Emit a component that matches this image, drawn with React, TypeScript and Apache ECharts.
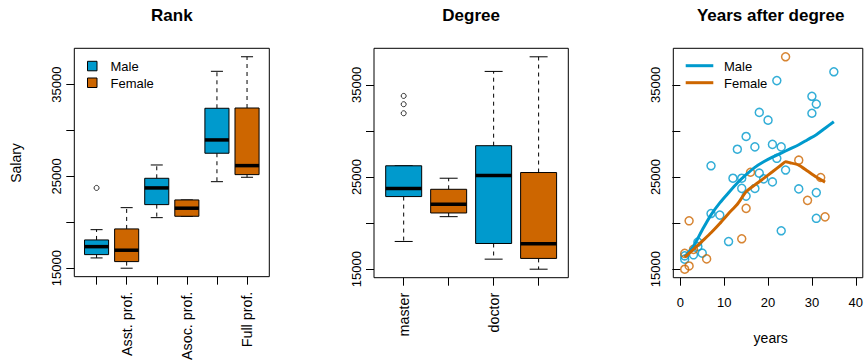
import React, { useEffect, useRef } from "react";
import * as echarts from "echarts";

const sexes = ["Male", "Female"];
const sexColors = ["#009ACD", "#CD6600"];
const panelTitles = ["Rank", "Degree", "Years after degree"];
const yAxisTitle = "Salary";
const xAxisTitle = "years";
const rankLabels = ["Asst. prof.", "Asoc. prof.", "Full prof."];
const degreeLabels = ["master", "doctor"];
const salaryTicks = [15000, 20000, 25000, 30000, 35000];
const salaryTickLabels = [15000, 25000, 35000];
const yearTicks = [0, 10, 20, 30, 40];

// box stats: [lower whisker, Q1, median, Q3, upper whisker]
const rankMaleBox = [
  [16120, 16480, 17350, 18080, 19200],
  [20510, 21930, 23750, 24800, 26250],
  [24430, 27530, 28980, 32430, 36460],
];
const rankFemaleBox = [
  [15000, 15720, 16960, 19280, 21600],
  [20660, 20660, 21540, 22440, 22440],
  [24910, 25200, 26180, 32460, 38045],
];
const rankMaleOutliers = [[23750]]; // per rank group
const degreeMaleBox = [
  [18010, 22880, 23750, 26220, 26220],
  [16090, 17790, 25160, 28400, 36460],
];
const degreeFemaleBox = [
  [20700, 21100, 22040, 23670, 24870],
  [15000, 16170, 17760, 25490, 38045],
];
const degreeMaleOutliers = [[31920, 32900, 33800]];

const maleYears = [1, 1, 3, 4, 4, 5, 7, 7, 9, 11, 12, 13, 14, 14, 15, 15, 17, 17, 18, 18, 19, 20, 21, 21, 22, 22, 23, 23, 24, 27, 30, 30, 31, 31, 31, 35];
const maleSalary = [16450, 16090, 16560, 17460, 17950, 16740, 26220, 21040, 20870, 18000, 24870, 28020, 24870, 23770, 29400, 22930, 28270, 23760, 32010, 25420, 24800, 31170, 28540, 24470, 35460, 27030, 28270, 19170, 25760, 23710, 33760, 31920, 32920, 23310, 20520, 36420];
const femaleYears = [1, 1, 2, 2, 3, 6, 14, 15, 16, 24, 27, 29, 32, 33];
const femaleSalary = [16720, 15000, 15350, 20250, 17150, 16120, 18300, 21600, 25520, 38045, 26830, 22470, 24950, 20680];

const maleFitYears = [1, 3, 5, 7, 9, 11, 13, 15, 17, 19, 21, 23, 25, 27, 29, 31, 33, 35];
const maleFitSalary = [16350, 17500, 19250, 20900, 22200, 23300, 24350, 25250, 26050, 26650, 27150, 27600, 28050, 28500, 29050, 29600, 30300, 31000];
const femaleFitYears = [1, 3, 5, 7, 9, 11, 13, 15, 17, 19, 21, 23, 24, 25, 27, 29, 31, 33];
const femaleFitSalary = [16300, 17150, 18050, 18950, 19950, 21050, 22050, 23400, 24150, 24850, 25570, 26300, 26650, 26550, 26300, 25650, 25000, 24450];

const FONT = "'Liberation Sans', Arial, sans-serif";
const Y_MIN = 14078;
const Y_MAX = 38967;

const renderBox = (_params: any, api: any) => {
  const x = api.value(0);
  const lo = api.value(1), q1 = api.value(2), med = api.value(3), q3 = api.value(4), hi = api.value(5);
  const w = api.size([0.8, 0])[0];
  const cx = api.coord([x, med])[0];
  const y = (v: number) => api.coord([x, v])[1];
  const color = api.visual("color");
  const dash = { stroke: "#000", lineWidth: 1, lineDash: [4, 4], fill: null };
  const solid = { stroke: "#000", lineWidth: 1, fill: null };
  return {
    type: "group",
    children: [
      { type: "line", shape: { x1: cx, y1: y(q3), x2: cx, y2: y(hi) }, style: dash },
      { type: "line", shape: { x1: cx, y1: y(q1), x2: cx, y2: y(lo) }, style: dash },
      { type: "line", shape: { x1: cx - w / 4, y1: y(hi), x2: cx + w / 4, y2: y(hi) }, style: solid },
      { type: "line", shape: { x1: cx - w / 4, y1: y(lo), x2: cx + w / 4, y2: y(lo) }, style: solid },
      { type: "rect", shape: { x: cx - w / 2, y: y(q3), width: w, height: y(q1) - y(q3) }, style: { fill: color, stroke: "#000", lineWidth: 1 } },
      { type: "line", shape: { x1: cx - w / 2, y1: y(med), x2: cx + w / 2, y2: y(med) }, style: { stroke: "#000", lineWidth: 3.5 } },
    ],
  };
};

const boxData = (stats: number[][], offset: number) =>
  stats.map((s, i) => [2 * i + 1 + offset, ...s]);

const outlierData = (groups: number[][], offset: number) => {
  const out: number[][] = [];
  groups.forEach((vals, i) => vals.forEach((v) => out.push([2 * i + 1 + offset, v])));
  return out;
};

const grids = [
  { left: 74.3, top: 48.3, width: 195, height: 229.4 },
  { left: 374, top: 48.3, width: 194.3, height: 229.4 },
  { left: 673.3, top: 48.3, width: 194.7, height: 229.4 },
];

const tickStyle = { show: true, inside: false, length: 8, lineStyle: { color: "#000", width: 1 } };
const labelBase = { color: "#000", fontSize: 13, fontFamily: FONT };

export default function App() {
  const ref = useRef<HTMLDivElement>(null);
  useEffect(() => {
    if (!ref.current) return;
    const chart = echarts.init(ref.current, null, { renderer: "svg" });
    const yAxes = grids.map((_, i) => ({
      type: "value",
      gridIndex: i,
      min: Y_MIN,
      max: Y_MAX,
      axisLine: { show: false },
      splitLine: { show: false },
      axisTick: { ...tickStyle, customValues: salaryTicks },
      axisLabel: { ...labelBase, customValues: salaryTickLabels, rotate: 90, margin: 11, formatter: (v: number) => String(v) },
    }));
    const option: any = {
      animation: false,
      backgroundColor: "#fff",
      grid: grids.map((g) => ({ ...g, show: true, borderColor: "#000", borderWidth: 1, backgroundColor: "transparent" })),
      xAxis: [
        {
          type: "value", gridIndex: 0, min: 0.26, max: 6.74,
          axisLine: { show: false }, splitLine: { show: false },
          axisTick: { ...tickStyle, customValues: [1, 2, 3, 4, 5, 6] },
          axisLabel: { ...labelBase, fontSize: 14.3, customValues: [2, 4, 6], rotate: 90, margin: 15, formatter: (v: number) => rankLabels[Math.round(v) / 2 - 1] ?? "" },
        },
        {
          type: "value", gridIndex: 1, min: 0.34, max: 4.66,
          axisLine: { show: false }, splitLine: { show: false },
          axisTick: { ...tickStyle, customValues: [1, 2, 3, 4] },
          axisLabel: { ...labelBase, fontSize: 14.3, customValues: [1, 3], rotate: 90, margin: 15, formatter: (v: number) => degreeLabels[(Math.round(v) - 1) / 2] ?? "" },
        },
        {
          type: "value", gridIndex: 2, min: -1.6, max: 41.6,
          axisLine: { show: false }, splitLine: { show: false },
          axisTick: { ...tickStyle, customValues: yearTicks },
          axisLabel: { ...labelBase, customValues: yearTicks, margin: 18, formatter: (v: number) => String(v) },
        },
      ],
      yAxis: yAxes,
      series: [
        { type: "custom", name: sexes[0], xAxisIndex: 0, yAxisIndex: 0, itemStyle: { color: sexColors[0] }, renderItem: renderBox, data: boxData(rankMaleBox, 0), encode: { x: 0, y: [1, 2, 3, 4, 5] } },
        { type: "custom", name: sexes[1], xAxisIndex: 0, yAxisIndex: 0, itemStyle: { color: sexColors[1] }, renderItem: renderBox, data: boxData(rankFemaleBox, 1), encode: { x: 0, y: [1, 2, 3, 4, 5] } },
        { type: "scatter", xAxisIndex: 0, yAxisIndex: 0, symbol: "circle", symbolSize: 5, itemStyle: { color: "transparent", borderColor: "#000", borderWidth: 1 }, data: outlierData(rankMaleOutliers, 0) },
        { type: "custom", name: sexes[0], xAxisIndex: 1, yAxisIndex: 1, itemStyle: { color: sexColors[0] }, renderItem: renderBox, data: boxData(degreeMaleBox, 0), encode: { x: 0, y: [1, 2, 3, 4, 5] } },
        { type: "custom", name: sexes[1], xAxisIndex: 1, yAxisIndex: 1, itemStyle: { color: sexColors[1] }, renderItem: renderBox, data: boxData(degreeFemaleBox, 1), encode: { x: 0, y: [1, 2, 3, 4, 5] } },
        { type: "scatter", xAxisIndex: 1, yAxisIndex: 1, symbol: "circle", symbolSize: 5, itemStyle: { color: "transparent", borderColor: "#000", borderWidth: 1 }, data: outlierData(degreeMaleOutliers, 0) },
        { type: "scatter", xAxisIndex: 2, yAxisIndex: 2, symbol: "circle", symbolSize: 8, itemStyle: { color: "transparent", borderColor: sexColors[0], borderWidth: 1.5 }, data: maleYears.map((x, i) => [x, maleSalary[i]]) },
        { type: "scatter", xAxisIndex: 2, yAxisIndex: 2, symbol: "circle", symbolSize: 8, itemStyle: { color: "transparent", borderColor: sexColors[1], borderWidth: 1.5 }, data: femaleYears.map((x, i) => [x, femaleSalary[i]]) },
        { type: "line", xAxisIndex: 2, yAxisIndex: 2, showSymbol: false, smooth: 0.3, lineStyle: { color: sexColors[0], width: 3 }, data: maleFitYears.map((x, i) => [x, maleFitSalary[i]]) },
        { type: "line", xAxisIndex: 2, yAxisIndex: 2, showSymbol: false, smooth: 0.2, lineStyle: { color: sexColors[1], width: 3 }, data: femaleFitYears.map((x, i) => [x, femaleFitSalary[i]]) },
      ],
      graphic: [
        ...panelTitles.map((t, i) => ({
          type: "text", x: grids[i].left + grids[i].width / 2, y: 15,
          style: { text: t, fill: "#000", font: `bold 17px ${FONT}`, textAlign: "center", textVerticalAlign: "middle" },
        })),
        { type: "text", x: 16, y: 163, rotation: Math.PI / 2, style: { text: yAxisTitle, fill: "#000", font: `14px ${FONT}`, textAlign: "center", textVerticalAlign: "middle" } },
        { type: "text", x: 770.7, y: 338, style: { text: xAxisTitle, fill: "#000", font: `14px ${FONT}`, textAlign: "center", textVerticalAlign: "middle" } },
        ...sexes.flatMap((s, i) => [
          { type: "rect", shape: { x: 87.5, y: 61.3 + i * 16.7, width: 9.5, height: 9.5 }, style: { fill: sexColors[i], stroke: "#000", lineWidth: 1 } },
          { type: "text", x: 110.5, y: 66.3 + i * 16.7, style: { text: s, fill: "#000", font: `13px ${FONT}`, textAlign: "left", textVerticalAlign: "middle" } },
          { type: "line", shape: { x1: 685.7, y1: 65.7 + i * 17, x2: 713.3, y2: 65.7 + i * 17 }, style: { stroke: sexColors[i], lineWidth: 3 } },
          { type: "text", x: 724, y: 66 + i * 17, style: { text: s, fill: "#000", font: `13px ${FONT}`, textAlign: "left", textVerticalAlign: "middle" } },
        ]),
      ],
    };
    chart.setOption(option);
    return () => chart.dispose();
  }, []);
  return <div ref={ref} style={{ position: "absolute", left: 0, top: 0, width: 866, height: 363 }} />;
}
